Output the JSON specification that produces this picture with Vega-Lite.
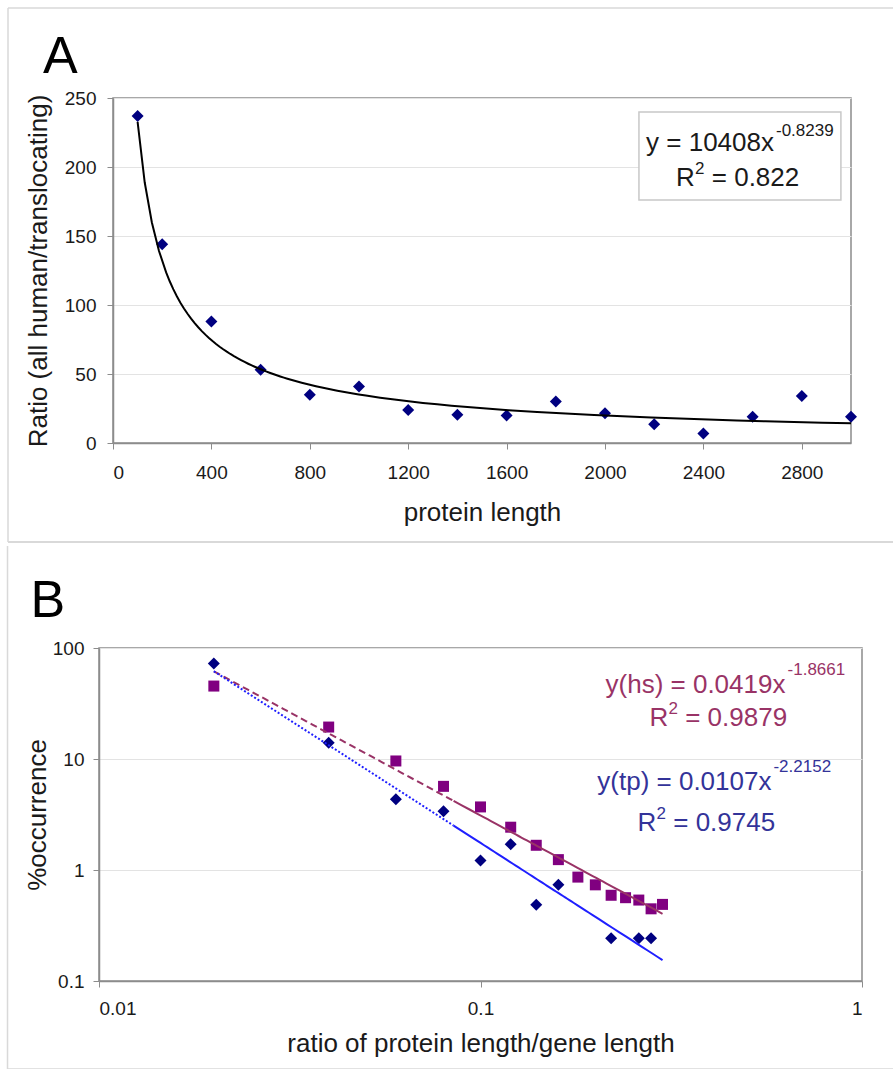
{
  "$schema": "https://vega.github.io/schema/vega-lite/v6.json",
  "padding": {"left": 5, "top": 6, "right": 0, "bottom": 0},
  "background": "white",
  "datasets": {
    "a": [
      {"len": 100, "ratio": 237}, {"len": 200, "ratio": 144}, {"len": 400, "ratio": 88},
      {"len": 600, "ratio": 53}, {"len": 800, "ratio": 35}, {"len": 1000, "ratio": 41},
      {"len": 1200, "ratio": 24}, {"len": 1400, "ratio": 20.5}, {"len": 1600, "ratio": 20},
      {"len": 1800, "ratio": 30}, {"len": 2000, "ratio": 21.5}, {"len": 2200, "ratio": 13.5},
      {"len": 2400, "ratio": 6.8}, {"len": 2600, "ratio": 19}, {"len": 2800, "ratio": 34},
      {"len": 3000, "ratio": 19}
    ],
    "b": [
      {"series": "tp", "ratio": 0.02, "occ": 72.4}, {"series": "tp", "ratio": 0.04, "occ": 14.0},
      {"series": "tp", "ratio": 0.06, "occ": 4.35}, {"series": "tp", "ratio": 0.08, "occ": 3.38},
      {"series": "tp", "ratio": 0.1, "occ": 1.22}, {"series": "tp", "ratio": 0.12, "occ": 1.71},
      {"series": "tp", "ratio": 0.14, "occ": 0.486}, {"series": "tp", "ratio": 0.16, "occ": 0.735},
      {"series": "tp", "ratio": 0.22, "occ": 0.243}, {"series": "tp", "ratio": 0.26, "occ": 0.243},
      {"series": "tp", "ratio": 0.28, "occ": 0.243},
      {"series": "hs", "ratio": 0.02, "occ": 45.4}, {"series": "hs", "ratio": 0.04, "occ": 19.4},
      {"series": "hs", "ratio": 0.06, "occ": 9.6}, {"series": "hs", "ratio": 0.08, "occ": 5.67},
      {"series": "hs", "ratio": 0.1, "occ": 3.7}, {"series": "hs", "ratio": 0.12, "occ": 2.43},
      {"series": "hs", "ratio": 0.14, "occ": 1.67}, {"series": "hs", "ratio": 0.16, "occ": 1.24},
      {"series": "hs", "ratio": 0.18, "occ": 0.863}, {"series": "hs", "ratio": 0.2, "occ": 0.735},
      {"series": "hs", "ratio": 0.22, "occ": 0.592}, {"series": "hs", "ratio": 0.24, "occ": 0.563},
      {"series": "hs", "ratio": 0.26, "occ": 0.536}, {"series": "hs", "ratio": 0.28, "occ": 0.447},
      {"series": "hs", "ratio": 0.3, "occ": 0.49}
    ]
  },
  "vconcat": [
    {
      "hconcat": [
        {"width": 1, "height": 1, "view": {"stroke": null}, "data": {"values": []}, "mark": "point"},
        {
          "width": 738,
          "height": 345,
          "layer": [
            {
              "data": {"values": [{}]},
              "mark": {"type": "rule", "color": "#d9d9d9", "strokeWidth": 1.5, "clip": false},
              "encoding": {"x": {"datum": -426.8}, "x2": {"datum": 3175}, "y": {"datum": 315.2}}
            },
            {
              "data": {"values": [{}]},
              "mark": {"type": "rule", "color": "#d9d9d9", "strokeWidth": 1.5, "clip": false},
              "encoding": {"x": {"datum": -426.8}, "y": {"datum": 315.2}, "y2": {"datum": -71.7}}
            },
            {
              "data": {"values": [{}]},
              "mark": {"type": "rule", "color": "#d9d9d9", "strokeWidth": 2, "clip": false},
              "encoding": {"x": {"datum": -426.8}, "x2": {"datum": 3175}, "y": {"datum": -71.7}}
            },
            {
              "data": {"name": "a"},
              "mark": {"type": "point", "shape": "diamond", "filled": true, "color": "#000080", "size": 144, "opacity": 1},
              "encoding": {
                "x": {"field": "len", "type": "quantitative", "scale": {"domain": [0, 3000], "nice": false, "zero": false},
                      "axis": {"values": [0, 400, 800, 1200, 1600, 2000, 2400, 2800], "grid": false, "format": "d", "title": "protein length", "labelPadding": 14, "titlePadding": 17}},
                "y": {"field": "ratio", "type": "quantitative", "scale": {"domain": [0, 250], "nice": false},
                      "axis": {"values": [0, 50, 100, 150, 200, 250], "grid": true, "title": "Ratio (all human/translocating)", "labelPadding": 11, "titlePadding": 13}}
              }
            },
            {
              "data": {"name": "a"},
              "transform": [{"regression": "ratio", "on": "len", "method": "pow", "extent": [100, 3000]}],
              "mark": {"type": "line", "color": "#000000", "strokeWidth": 2},
              "encoding": {"x": {"field": "len", "type": "quantitative"}, "y": {"field": "ratio", "type": "quantitative"}}
            },
            {
              "data": {"values": [{}]},
              "mark": {"type": "rect", "fill": "white", "stroke": "#c8c8c8", "strokeWidth": 1.5},
              "encoding": {"x": {"datum": 2138}, "x2": {"datum": 2959}, "y": {"datum": 239.9}, "y2": {"datum": 176.1}}
            },
            {
              "data": {"values": [{}]},
              "mark": {"type": "text", "text": "y = 10408x", "align": "right", "baseline": "alphabetic", "fontSize": 26, "color": "#1a1a1a"},
              "encoding": {"x": {"datum": 2687}, "y": {"datum": 211.6}}
            },
            {
              "data": {"values": [{}]},
              "mark": {"type": "text", "text": "-0.8239", "align": "left", "baseline": "alphabetic", "fontSize": 17, "color": "#1a1a1a"},
              "encoding": {"x": {"datum": 2695}, "y": {"datum": 222.5}}
            },
            {
              "data": {"values": [{}]},
              "mark": {"type": "text", "text": "R", "align": "left", "baseline": "alphabetic", "fontSize": 26, "color": "#1a1a1a"},
              "encoding": {"x": {"datum": 2288.6}, "y": {"datum": 186.2}}
            },
            {
              "data": {"values": [{}]},
              "mark": {"type": "text", "text": "2", "align": "left", "baseline": "alphabetic", "fontSize": 17, "color": "#1a1a1a"},
              "encoding": {"x": {"datum": 2365.9}, "y": {"datum": 194.9}}
            },
            {
              "data": {"values": [{}]},
              "mark": {"type": "text", "text": "= 0.822", "align": "left", "baseline": "alphabetic", "fontSize": 26, "color": "#1a1a1a"},
              "encoding": {"x": {"datum": 2434}, "y": {"datum": 186.2}}
            },
            {
              "data": {"values": [{}]},
              "mark": {"type": "text", "text": "A", "align": "left", "baseline": "alphabetic", "fontSize": 52, "color": "#000000"},
              "encoding": {"x": {"datum": -284.6}, "y": {"datum": 268.1}}
            }
          ]
        }
      ],
      "spacing": 0
    },
    {
      "hconcat": [
        {"width": 1, "height": 1, "view": {"stroke": null}, "data": {"values": []}, "mark": "point"},
        {
          "width": 763,
          "height": 333,
          "layer": [
            {
              "data": {"values": [{}]},
              "mark": {"type": "rule", "color": "#d9d9d9", "strokeWidth": 1.5, "clip": false},
              "encoding": {"x": {"datum": 0.005757}, "y": {"datum": 829.8}, "y2": {"datum": 0.0161}}
            },
            {
              "data": {"values": [{}]},
              "mark": {"type": "rule", "color": "#d9d9d9", "strokeWidth": 1.5, "clip": false},
              "encoding": {"x": {"datum": 0.005757}, "x2": {"datum": 1.2093}, "y": {"datum": 0.0161}}
            },
            {
              "data": {"name": "b"},
              "transform": [{"filter": {"field": "series", "equal": "hs"}}],
              "mark": {"type": "point", "shape": "square", "filled": true, "color": "#800080", "size": 121, "opacity": 1},
              "encoding": {
                "x": {"field": "ratio", "type": "quantitative", "scale": {"type": "log", "domain": [0.01, 1], "nice": false},
                      "axis": {"values": [0.01, 0.1, 1], "grid": false, "format": "~g", "title": "ratio of protein length/gene length", "labelPadding": 12, "titlePadding": 12}},
                "y": {"field": "occ", "type": "quantitative", "scale": {"type": "log", "domain": [0.1, 100], "nice": false},
                      "axis": {"values": [0.1, 1, 10, 100], "grid": true, "format": "~g", "title": "%occurrence", "labelPadding": 9, "titlePadding": 2}}
              }
            },
            {
              "data": {"name": "b"},
              "transform": [{"filter": {"field": "series", "equal": "tp"}}],
              "mark": {"type": "point", "shape": "diamond", "filled": true, "color": "#000080", "size": 144, "opacity": 1},
              "encoding": {"x": {"field": "ratio", "type": "quantitative"}, "y": {"field": "occ", "type": "quantitative"}}
            },
            {
              "data": {"name": "b"},
              "transform": [{"filter": {"field": "series", "equal": "hs"}}, {"regression": "occ", "on": "ratio", "method": "pow", "extent": [0.02, 0.085]}],
              "mark": {"type": "line", "color": "#993366", "strokeWidth": 2, "strokeDash": [7, 4]},
              "encoding": {"x": {"field": "ratio", "type": "quantitative"}, "y": {"field": "occ", "type": "quantitative"}}
            },
            {
              "data": {"name": "b"},
              "transform": [{"filter": {"field": "series", "equal": "hs"}}, {"regression": "occ", "on": "ratio", "method": "pow", "extent": [0.085, 0.3]}],
              "mark": {"type": "line", "color": "#993366", "strokeWidth": 2},
              "encoding": {"x": {"field": "ratio", "type": "quantitative"}, "y": {"field": "occ", "type": "quantitative"}}
            },
            {
              "data": {"name": "b"},
              "transform": [{"filter": {"field": "series", "equal": "tp"}}, {"regression": "occ", "on": "ratio", "method": "pow", "extent": [0.02, 0.085]}],
              "mark": {"type": "line", "color": "#1f1fff", "strokeWidth": 2, "strokeDash": [2, 2]},
              "encoding": {"x": {"field": "ratio", "type": "quantitative"}, "y": {"field": "occ", "type": "quantitative"}}
            },
            {
              "data": {"name": "b"},
              "transform": [{"filter": {"field": "series", "equal": "tp"}}, {"regression": "occ", "on": "ratio", "method": "pow", "extent": [0.085, 0.3]}],
              "mark": {"type": "line", "color": "#1f1fff", "strokeWidth": 2},
              "encoding": {"x": {"field": "ratio", "type": "quantitative"}, "y": {"field": "occ", "type": "quantitative"}}
            },
            {
              "data": {"values": [{}]},
              "mark": {"type": "text", "text": "y(hs) = 0.0419x", "align": "right", "baseline": "alphabetic", "fontSize": 26, "color": "#993366"},
              "encoding": {"x": {"datum": 0.63}, "y": {"datum": 39.3}}
            },
            {
              "data": {"values": [{}]},
              "mark": {"type": "text", "text": "-1.8661", "align": "left", "baseline": "alphabetic", "fontSize": 17, "color": "#993366"},
              "encoding": {"x": {"datum": 0.638}, "y": {"datum": 57.2}}
            },
            {
              "data": {"values": [{}]},
              "mark": {"type": "text", "text": "R", "align": "left", "baseline": "alphabetic", "fontSize": 26, "color": "#993366"},
              "encoding": {"x": {"datum": 0.27731}, "y": {"datum": 19.83}}
            },
            {
              "data": {"values": [{}]},
              "mark": {"type": "text", "text": "2", "align": "left", "baseline": "alphabetic", "fontSize": 17, "color": "#993366"},
              "encoding": {"x": {"datum": 0.311}, "y": {"datum": 25.43}}
            },
            {
              "data": {"values": [{}]},
              "mark": {"type": "text", "text": "= 0.9879", "align": "left", "baseline": "alphabetic", "fontSize": 26, "color": "#993366"},
              "encoding": {"x": {"datum": 0.34394}, "y": {"datum": 19.83}}
            },
            {
              "data": {"values": [{}]},
              "mark": {"type": "text", "text": "y(tp) = 0.0107x", "align": "right", "baseline": "alphabetic", "fontSize": 26, "color": "#333399"},
              "encoding": {"x": {"datum": 0.579}, "y": {"datum": 5.26}}
            },
            {
              "data": {"values": [{}]},
              "mark": {"type": "text", "text": "-2.2152", "align": "left", "baseline": "alphabetic", "fontSize": 17, "color": "#333399"},
              "encoding": {"x": {"datum": 0.586}, "y": {"datum": 7.64}}
            },
            {
              "data": {"values": [{}]},
              "mark": {"type": "text", "text": "R", "align": "left", "baseline": "alphabetic", "fontSize": 26, "color": "#333399"},
              "encoding": {"x": {"datum": 0.25797}, "y": {"datum": 2.246}}
            },
            {
              "data": {"values": [{}]},
              "mark": {"type": "text", "text": "2", "align": "left", "baseline": "alphabetic", "fontSize": 17, "color": "#333399"},
              "encoding": {"x": {"datum": 0.28929}, "y": {"datum": 2.881}}
            },
            {
              "data": {"values": [{}]},
              "mark": {"type": "text", "text": "= 0.9745", "align": "left", "baseline": "alphabetic", "fontSize": 26, "color": "#333399"},
              "encoding": {"x": {"datum": 0.32004}, "y": {"datum": 2.246}}
            },
            {
              "data": {"values": [{}]},
              "mark": {"type": "text", "text": "B", "align": "left", "baseline": "alphabetic", "fontSize": 52, "color": "#000000"},
              "encoding": {"x": {"datum": 0.006613}, "y": {"datum": 190.1}}
            }
          ]
        }
      ],
      "spacing": 0
    }
  ],
  "spacing": 0,
  "config": {
    "font": "Liberation Sans",
    "view": {"stroke": "#8c8c8c", "strokeWidth": 1.5},
    "axis": {
      "domainColor": "#8c8c8c", "domainWidth": 1.5, "tickColor": "#8c8c8c", "tickSize": 6,
      "labelFont": "Liberation Sans", "labelFontSize": 19, "labelColor": "#1a1a1a",
      "titleFont": "Liberation Sans", "titleFontSize": 26, "titleFontWeight": "normal", "titleColor": "#1a1a1a",
      "gridColor": "#e3e3e3", "gridWidth": 1
    },
    "text": {"font": "Liberation Sans"}
  }
}
